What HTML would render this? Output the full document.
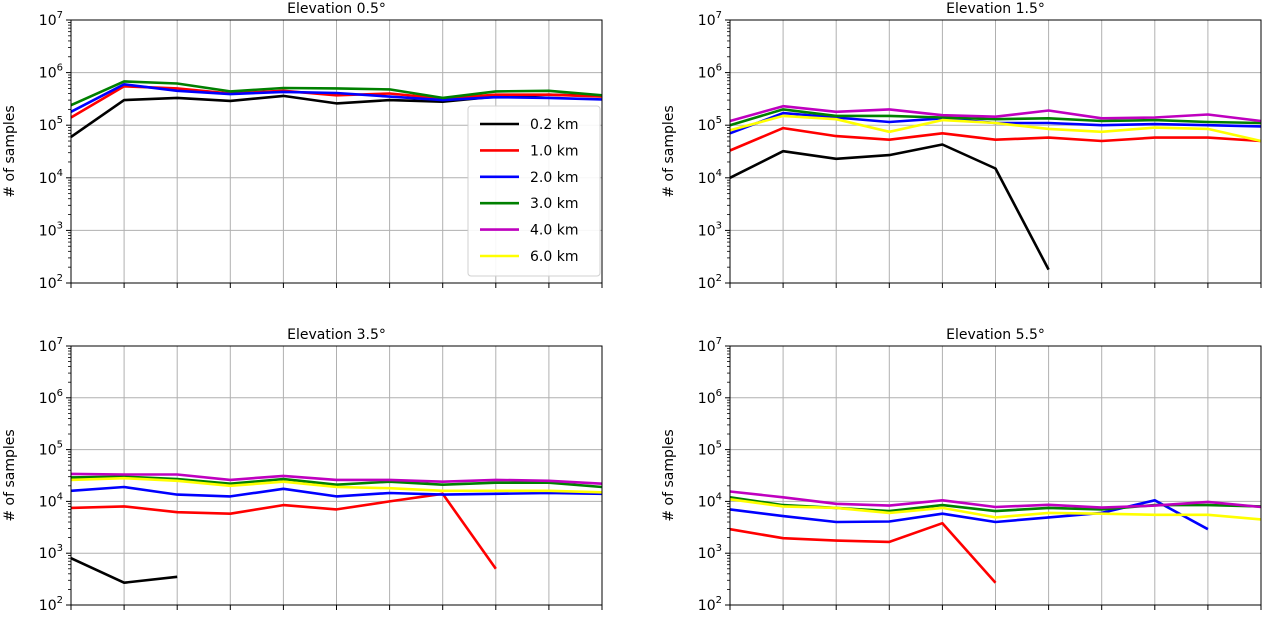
<!DOCTYPE html>
<html><head><meta charset="utf-8"><style>
body{margin:0;background:#fff;}
svg{font-family:"DejaVu Sans","Liberation Sans",sans-serif;}
</style></head><body>
<svg id="c" width="1264" height="612" xmlns="http://www.w3.org/2000/svg"></svg>
<script>
const seriesNames = ['0.2 km','1.0 km','2.0 km','3.0 km','4.0 km','6.0 km'];
const seriesColors = ['#000000','#ff0000','#0000ff','#008000','#bf00bf','#ffff00'];
const panelTitles = ['Elevation 0.5°','Elevation 1.5°','Elevation 3.5°','Elevation 5.5°'];
const yTickExps = [2,3,4,5,6,7];
const xCategories = [0,1,2,3,4,5,6,7,8,9,10];
// panel 1 (0.5°)
const p1_black = [6e4,3e5,3.3e5,2.9e5,3.6e5,2.6e5,3e5,2.8e5,3.5e5,3.8e5,3.6e5];
const p1_red = [1.4e5,5.5e5,5e5,4e5,4.5e5,3.7e5,4e5,3.2e5,3.8e5,3.8e5,3.5e5];
const p1_blue = [1.8e5,6e5,4.5e5,3.9e5,4.3e5,4.1e5,3.5e5,3e5,3.4e5,3.3e5,3.1e5];
const p1_green = [2.4e5,6.8e5,6.2e5,4.4e5,5.1e5,5e5,4.8e5,3.3e5,4.4e5,4.5e5,3.7e5];
const p1_magenta = [];
const p1_yellow = [];
// panel 2 (1.5°)
const p2_black = [1e4,3.2e4,2.3e4,2.7e4,4.3e4,1.5e4,180];
const p2_red = [3.3e4,8.8e4,6.2e4,5.3e4,7e4,5.3e4,5.8e4,5e4,5.8e4,5.8e4,5e4];
const p2_blue = [7e4,1.7e5,1.4e5,1.15e5,1.35e5,1.1e5,1.1e5,1e5,1.05e5,1e5,9.5e4];
const p2_green = [1e5,2e5,1.5e5,1.5e5,1.4e5,1.3e5,1.35e5,1.2e5,1.25e5,1.15e5,1.1e5];
const p2_magenta = [1.2e5,2.3e5,1.8e5,2e5,1.55e5,1.45e5,1.9e5,1.35e5,1.4e5,1.6e5,1.2e5];
const p2_yellow = [8e4,1.5e5,1.3e5,7.5e4,1.25e5,1.1e5,8.5e4,7.5e4,9e4,8.5e4,5e4];
// panel 3 (3.5°)
const p3_black = [800,270,350];
const p3_red = [7.5e3,8e3,6.2e3,5.8e3,8.5e3,7e3,1e4,1.4e4,500];
const p3_blue = [1.6e4,1.9e4,1.35e4,1.25e4,1.75e4,1.25e4,1.45e4,1.35e4,1.4e4,1.45e4,1.4e4];
const p3_green = [2.9e4,3e4,2.7e4,2.2e4,2.7e4,2.1e4,2.4e4,2.1e4,2.3e4,2.3e4,1.9e4];
const p3_magenta = [3.4e4,3.3e4,3.3e4,2.6e4,3.1e4,2.6e4,2.6e4,2.4e4,2.6e4,2.5e4,2.2e4];
const p3_yellow = [2.6e4,2.8e4,2.5e4,2e4,2.4e4,1.9e4,1.8e4,1.6e4,1.6e4,1.6e4,1.5e4];
// panel 4 (5.5°)
const p4_black = [];
const p4_red = [2.9e3,1.95e3,1.75e3,1.65e3,3.8e3,270];
const p4_blue = [7e3,5.2e3,4e3,4.1e3,5.8e3,4e3,4.9e3,6e3,1.05e4,2.9e3];
const p4_green = [1.2e4,8.5e3,7.5e3,6.5e3,8.5e3,6.5e3,7.5e3,7e3,8.5e3,8.5e3,8e3];
const p4_magenta = [1.55e4,1.2e4,9e3,8.3e3,1.05e4,7.8e3,8.6e3,7.6e3,8.3e3,9.8e3,7.8e3];
const p4_yellow = [1.1e4,8e3,7.5e3,6e3,7.5e3,4.9e3,6e3,5.8e3,5.5e3,5.5e3,4.5e3];

const panelData = [
 [p1_black,p1_red,p1_blue,p1_green,p1_magenta,p1_yellow],
 [p2_black,p2_red,p2_blue,p2_green,p2_magenta,p2_yellow],
 [p3_black,p3_red,p3_blue,p3_green,p3_magenta,p3_yellow],
 [p4_black,p4_red,p4_blue,p4_green,p4_magenta,p4_yellow]];
const boxes = [{x0:71,x1:602,y0:20,y1:283},{x0:730,x1:1261,y0:20,y1:283},
               {x0:71,x1:602,y0:346,y1:605},{x0:730,x1:1261,y0:346,y1:605}];
const svg = document.getElementById('c');
const NS='http://www.w3.org/2000/svg';
function mk(tag,attrs,parent){const e=document.createElementNS(NS,tag);for(const k in attrs)e.setAttribute(k,attrs[k]);(parent||svg).appendChild(e);return e;}

panelData.forEach((series,pi)=>{
  const b=boxes[pi];
  const g=mk('g',{});
  
  
  const xs=i=>b.x0+(b.x1-b.x0)*i/(xCategories.length-1);
  const ys=v=>b.y1-(b.y1-b.y0)*(Math.log10(v)-2)/5;
  // grid
  xCategories.forEach((c,i)=>{
    const l=mk('line',{x1:xs(i),x2:xs(i),y1:b.y0,y2:b.y1,stroke:'#b0b0b0','stroke-width':1},g);
    
    
    const t=mk('line',{x1:xs(i),x2:xs(i),y1:b.y1,y2:b.y1+5,stroke:'#000','stroke-width':1},g);
    
    
  });
  yTickExps.forEach(e=>{
    const y=ys(Math.pow(10,e));
    const l=mk('line',{x1:b.x0,x2:b.x1,y1:y,y2:y,stroke:'#b0b0b0','stroke-width':1},g);
    
    
    mk('line',{x1:b.x0-5,x2:b.x0,y1:y,y2:y,stroke:'#000','stroke-width':1},g);
    const t=mk('text',{x:b.x0-8,y:y+5,'text-anchor':'end','font-size':14,fill:'#000'},g);
    
    
    t.textContent='10';
    const s=mk('tspan',{dy:-7,'font-size':10},t); s.textContent=String(e);
    if(e<7){for(let m=2;m<10;m++){const ym=ys(m*Math.pow(10,e));mk('line',{x1:b.x0-3,x2:b.x0,y1:ym,y2:ym,stroke:'#000','stroke-width':0.8},g);}}
  });
  // series
  series.forEach((arr,si)=>{
    if(!arr.length)return;
    const pts=arr.map((v,i)=>xs(i).toFixed(1)+','+ys(v).toFixed(1)).join(' ');
    const p=mk('polyline',{points:pts,fill:'none',stroke:seriesColors[si],'stroke-width':2.6,'stroke-linejoin':'round'},g);
    
    
  });
  mk('rect',{x:b.x0,y:b.y0,width:b.x1-b.x0,height:b.y1-b.y0,fill:'none',stroke:'#000','stroke-width':1},g);
  const tt=mk('text',{x:(b.x0+b.x1)/2,y:b.y0-7,'text-anchor':'middle','font-size':14,fill:'#000'},g);
  
  
  tt.textContent=panelTitles[pi];
  const yl=mk('text',{x:0,y:0,'text-anchor':'middle','font-size':14,fill:'#000',transform:'translate('+(b.x0-57)+','+((b.y0+b.y1)/2)+') rotate(-90)'},g);
  
  
  yl.textContent='# of samples';
});
// legend
const lg=mk('g',{});


mk('rect',{x:468,y:106,width:132,height:170,rx:3,fill:'#fff','fill-opacity':0.9,stroke:'#d0d0d0'},lg);
seriesNames.forEach((n,i)=>{
  const y=124+i*26.4;
  const e=mk('g',{},lg);
  
  
  mk('line',{x1:480,x2:519,y1:y,y2:y,stroke:seriesColors[i],'stroke-width':2.6},e);
  const t=mk('text',{x:530,y:y+5,'font-size':14,fill:'#000'},e);
  t.textContent=n;
});
</script>
</body></html>
